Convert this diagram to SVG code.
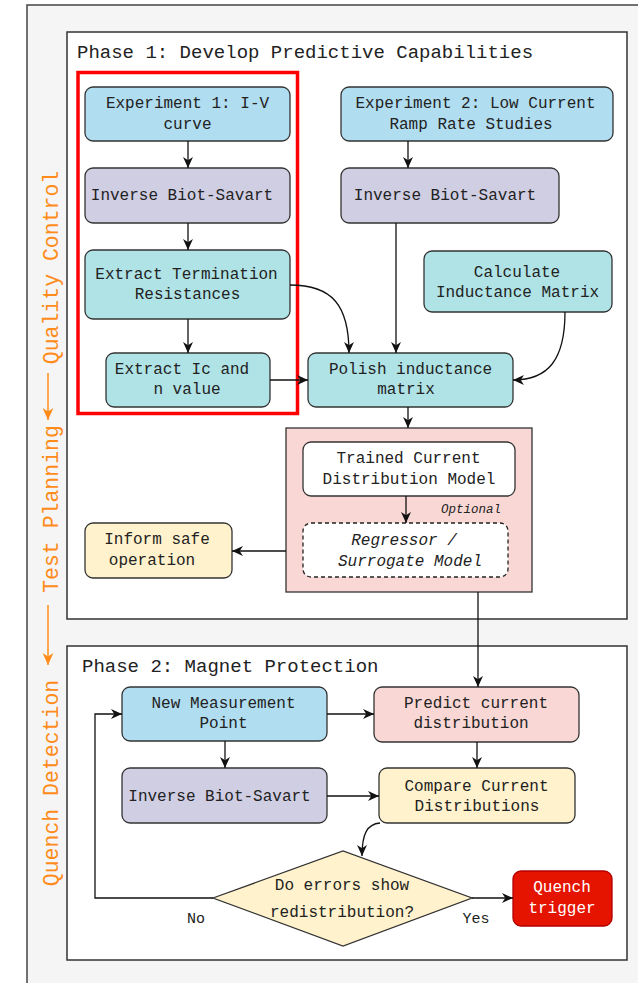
<svg xmlns="http://www.w3.org/2000/svg" width="638" height="983" viewBox="0 0 638 983">
<style>
text{font-family:"Liberation Mono","Courier New",monospace;fill:#222;}
.t{font-size:16px;text-anchor:middle;}
.it{font-style:italic;}
.title{font-size:19px;}
.side{font-size:21.5px;fill:#FF8C1A;text-anchor:middle;}
.n{stroke:#333;stroke-width:1.3;}
.blue{fill:#b1ddf0;}
.lav{fill:#d0cee2;}
.teal{fill:#b0e3e6;}
.yel{fill:#fff2cc;}
.pink{fill:#f8d7d5;}
.c{fill:none;stroke:#111;stroke-width:1.3;}
</style>
<defs>
<marker id="ar" viewBox="0 0 10 10" refX="10" refY="5" markerWidth="12" markerHeight="11" markerUnits="userSpaceOnUse" orient="auto">
<path d="M0,0.5 L10,5 L0,9.5 L3,5 Z" fill="#111"/>
</marker>
<marker id="ao" viewBox="0 0 10 10" refX="10" refY="5" markerWidth="13" markerHeight="12" markerUnits="userSpaceOnUse" orient="auto">
<path d="M0,0.5 L10,5 L0,9.5 L3,5 Z" fill="#FF8C1A"/>
</marker>
</defs>
<g id="background">
<rect x="27" y="5" width="640" height="1000" fill="#f5f5f5" stroke="#444" stroke-width="1.5"/>
</g>
<g id="side-label">
<text class="side" transform="translate(57.5,267.5) rotate(-90)">Quality Control</text>
<text class="side" transform="translate(57.5,509) rotate(-90)">Test Planning</text>
<text class="side" transform="translate(57.5,783) rotate(-90)">Quench Detection</text>
<line x1="48" y1="373" x2="48" y2="420" stroke="#FF8C1A" stroke-width="1.5" marker-end="url(#ao)"/>
<line x1="48" y1="605" x2="48" y2="665" stroke="#FF8C1A" stroke-width="1.5" marker-end="url(#ao)"/>
</g>
<g id="phase1">
<rect x="67" y="32" width="560" height="587" fill="#fff" stroke="#333" stroke-width="1.5"/>
<text class="title" x="77" y="58">Phase 1: Develop Predictive Capabilities</text>
</g>
<g id="phase2">
<rect x="67" y="646" width="560" height="314" fill="#fff" stroke="#333" stroke-width="1.5"/>
<text class="title" x="82" y="672">Phase 2: Magnet Protection</text>
</g>
<g id="red-frame">
<rect x="78" y="72.5" width="219.5" height="341" fill="none" stroke="#ff0000" stroke-width="3.5"/>
</g>
<g id="exp1">
<rect class="n blue" x="85" y="87" width="205" height="54" rx="8"/>
<text class="t" x="187.5" y="108">Experiment 1: I-V</text>
<text class="t" x="187.5" y="129">curve</text>
</g>
<g id="ibs1">
<rect class="n lav" x="85" y="168" width="205" height="55" rx="8"/>
<text class="t" x="182" y="200">Inverse Biot-Savart</text>
</g>
<g id="etr">
<rect class="n teal" x="85" y="250" width="205" height="69" rx="8"/>
<text class="t" x="186.5" y="279">Extract Termination</text>
<text class="t" x="187.5" y="299">Resistances</text>
</g>
<g id="icn">
<rect class="n teal" x="106" y="353" width="164" height="54" rx="8"/>
<text class="t" x="182" y="374">Extract Ic and</text>
<text class="t" x="187" y="394">n value</text>
</g>
<g id="exp2">
<rect class="n blue" x="341" y="87" width="272" height="54" rx="8"/>
<text class="t" x="475.5" y="108">Experiment 2: Low Current</text>
<text class="t" x="471" y="129">Ramp Rate Studies</text>
</g>
<g id="ibs2">
<rect class="n lav" x="341" y="168" width="218" height="55" rx="8"/>
<text class="t" x="445" y="200">Inverse Biot-Savart</text>
</g>
<g id="calc">
<rect class="n teal" x="424" y="251" width="188" height="61" rx="8"/>
<text class="t" x="517" y="277">Calculate</text>
<text class="t" x="517.5" y="297">Inductance Matrix</text>
</g>
<g id="polish">
<rect class="n teal" x="308" y="353" width="205" height="54" rx="8"/>
<text class="t" x="410.5" y="374">Polish inductance</text>
<text class="t" x="406" y="394">matrix</text>
</g>
<g id="model-group">
<rect class="n pink" x="286" y="428" width="246" height="164"/>
</g>
<g id="trained">
<rect class="n" fill="#fff" x="303" y="442" width="212" height="54" rx="8"/>
<text class="t" x="408.5" y="463">Trained Current</text>
<text class="t" x="409" y="484">Distribution Model</text>
</g>
<g id="optional-label">
<text class="it" x="501" y="513" font-size="12.5" text-anchor="end">Optional</text>
</g>
<g id="regressor">
<rect x="303" y="523" width="205" height="54" rx="8" fill="#fff" stroke="#222" stroke-width="1.3" stroke-dasharray="4 3"/>
<text class="t it" x="404" y="545">Regressor /</text>
<text class="t it" x="410" y="566">Surrogate Model</text>
</g>
<g id="inform">
<rect class="n yel" x="85" y="523" width="147" height="55" rx="8"/>
<text class="t" x="157" y="544">Inform safe</text>
<text class="t" x="152" y="565">operation</text>
</g>
<g id="newmeas">
<rect class="n blue" x="122" y="687" width="205" height="54" rx="8"/>
<text class="t" x="223.5" y="708">New Measurement</text>
<text class="t" x="223.5" y="728">Point</text>
</g>
<g id="ibs3">
<rect class="n lav" x="122" y="768" width="205" height="55" rx="8"/>
<text class="t" x="219.5" y="801">Inverse Biot-Savart</text>
</g>
<g id="predict">
<rect class="n pink" x="374" y="687" width="205" height="55" rx="8"/>
<text class="t" x="476" y="708">Predict current</text>
<text class="t" x="471" y="728">distribution</text>
</g>
<g id="compare">
<rect class="n yel" x="379" y="768" width="196" height="55" rx="8"/>
<text class="t" x="476.5" y="791">Compare Current</text>
<text class="t" x="477" y="811">Distributions</text>
</g>
<g id="decision">
<polygon class="n yel" points="213,898 343,851 472,898 343,946"/>
<text class="t" x="342" y="890">Do errors show</text>
<text class="t" x="342" y="917">redistribution?</text>
</g>
<g id="quench">
<rect x="513" y="871" width="99" height="55" rx="8" fill="#e51400" stroke="#b20000" stroke-width="1.3"/>
<text class="t" x="562" y="892" style="fill:#fff">Quench</text>
<text class="t" x="562" y="913" style="fill:#fff">trigger</text>
</g>
<g id="connectors">
<line class="c" x1="188" y1="141" x2="188" y2="168" marker-end="url(#ar)"/>
<line class="c" x1="188" y1="223" x2="188" y2="250" marker-end="url(#ar)"/>
<line class="c" x1="188" y1="319" x2="188" y2="353" marker-end="url(#ar)"/>
<line class="c" x1="270" y1="380" x2="308" y2="380" marker-end="url(#ar)"/>
<path class="c" d="M290,285 C332,285 349,305 349,353" marker-end="url(#ar)"/>
<line class="c" x1="408" y1="141" x2="408" y2="168" marker-end="url(#ar)"/>
<line class="c" x1="396" y1="223" x2="396" y2="353" marker-end="url(#ar)"/>
<path class="c" d="M565,312 C565,360 548,380 513,380" marker-end="url(#ar)"/>
<line class="c" x1="408" y1="407" x2="408" y2="428" marker-end="url(#ar)"/>
<line class="c" x1="406" y1="496" x2="406" y2="523" marker-end="url(#ar)"/>
<line class="c" x1="286" y1="551" x2="232" y2="551" marker-end="url(#ar)"/>
<line class="c" x1="478" y1="592" x2="478" y2="687" marker-end="url(#ar)"/>
<line class="c" x1="225" y1="741" x2="225" y2="768" marker-end="url(#ar)"/>
<line class="c" x1="327" y1="714" x2="374" y2="714" marker-end="url(#ar)"/>
<line class="c" x1="477" y1="742" x2="477" y2="768" marker-end="url(#ar)"/>
<line class="c" x1="327" y1="796" x2="379" y2="796" marker-end="url(#ar)"/>
<path class="c" d="M380,823 C367,824 362,834 362,856" marker-end="url(#ar)"/>
<polyline class="c" points="213,898 95,898 95,714 122,714" marker-end="url(#ar)"/>
<line class="c" x1="472" y1="898" x2="513" y2="898" marker-end="url(#ar)"/>
<text x="196" y="923" font-size="15" text-anchor="middle">No</text>
<text x="476" y="923" font-size="15" text-anchor="middle">Yes</text>
</g>
</svg>
